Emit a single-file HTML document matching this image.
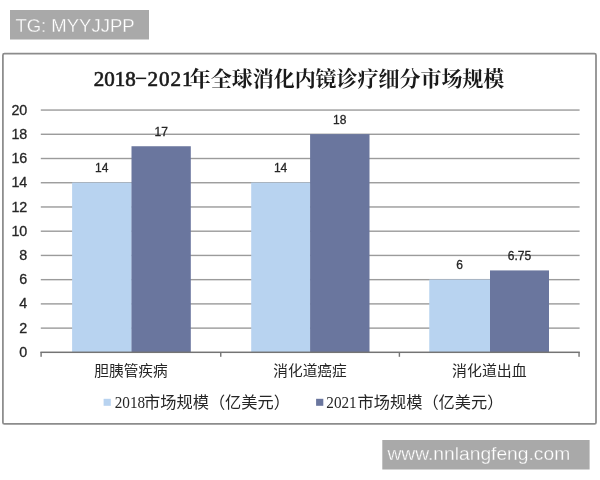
<!DOCTYPE html>
<html><head><meta charset="utf-8"><title>chart</title>
<style>
html,body{margin:0;padding:0;background:#fff;}
body{width:600px;height:480px;overflow:hidden;font-family:"Liberation Sans",sans-serif;}
svg{display:block;will-change:transform;}
text{font-family:"Liberation Sans",sans-serif;fill:#262626;}
.b{stroke:#262626;stroke-width:0.3px;}
.ser{font-family:"Liberation Serif",serif;}
.cjk{font-family:"Liberation Sans","Noto Sans CJK SC",sans-serif;}
.cjkser{font-family:"Liberation Serif","Noto Serif CJK SC",serif;}
</style></head><body>
<svg role="img" aria-label="2018-2021年全球消化内镜诊疗细分市场规模" width="600" height="480" viewBox="0 0 600 480">
<rect x="0" y="0" width="600" height="480" fill="#fff"/>
<rect x="10" y="10" width="139" height="29.5" fill="#a9a9a9"/>
<text x="15.4" y="31.9" font-size="18.3" style="fill:#fff;stroke:#a9a9a9;stroke-width:0.3px" textLength="119.2" lengthAdjust="spacingAndGlyphs">TG: MYYJJPP</text>
<rect x="2.9" y="53.7" width="593.1" height="370.2" rx="1.5" ry="1.5" fill="#fff" stroke="#8c8c8c" stroke-width="1.75"/>
<rect x="40.8" y="327.42" width="538.8" height="1.4" fill="#9b9b9b"/>
<rect x="40.8" y="303.19" width="538.8" height="1.4" fill="#9b9b9b"/>
<rect x="40.8" y="278.96" width="538.8" height="1.4" fill="#9b9b9b"/>
<rect x="40.8" y="254.73" width="538.8" height="1.4" fill="#9b9b9b"/>
<rect x="40.8" y="230.50" width="538.8" height="1.4" fill="#9b9b9b"/>
<rect x="40.8" y="206.27" width="538.8" height="1.4" fill="#9b9b9b"/>
<rect x="40.8" y="182.04" width="538.8" height="1.4" fill="#9b9b9b"/>
<rect x="40.8" y="157.81" width="538.8" height="1.4" fill="#9b9b9b"/>
<rect x="40.8" y="133.58" width="538.8" height="1.4" fill="#9b9b9b"/>
<rect x="40.8" y="109.35" width="538.8" height="1.4" fill="#9b9b9b"/>
<rect x="72.10" y="182.59" width="59.70" height="169.61" fill="#b8d3f0"/>
<rect x="131.50" y="146.24" width="59.30" height="205.96" fill="#6a769e"/>
<text x="101.8" y="172.2" font-size="12" text-anchor="middle" class="b">14</text>
<text x="161.2" y="135.8" font-size="12" text-anchor="middle" class="b">17</text>
<rect x="251.20" y="182.59" width="59.20" height="169.61" fill="#b8d3f0"/>
<rect x="310.10" y="134.13" width="59.40" height="218.07" fill="#6a769e"/>
<text x="280.6" y="172.2" font-size="12" text-anchor="middle" class="b">14</text>
<text x="339.8" y="123.7" font-size="12" text-anchor="middle" class="b">18</text>
<rect x="429.25" y="279.51" width="61.05" height="72.69" fill="#b8d3f0"/>
<rect x="490.00" y="270.42" width="59.00" height="81.78" fill="#6a769e"/>
<text x="459.6" y="269.1" font-size="12" text-anchor="middle" class="b">6</text>
<text x="519.5" y="260.0" font-size="12" text-anchor="middle" class="b">6.75</text>
<rect x="40.40" y="351.55" width="539.40" height="1.5" fill="#747474"/>
<rect x="40.40" y="352.20" width="1.4" height="4.6" fill="#747474"/>
<rect x="220.05" y="352.20" width="1.4" height="4.6" fill="#747474"/>
<rect x="398.70" y="352.20" width="1.4" height="4.6" fill="#747474"/>
<rect x="578.35" y="352.20" width="1.4" height="4.6" fill="#747474"/>
<text x="27.3" y="356.9" font-size="14.3" text-anchor="end" class="b">0</text>
<text x="27.3" y="332.7" font-size="14.3" text-anchor="end" class="b">2</text>
<text x="27.3" y="308.4" font-size="14.3" text-anchor="end" class="b">4</text>
<text x="27.3" y="284.2" font-size="14.3" text-anchor="end" class="b">6</text>
<text x="27.3" y="260.0" font-size="14.3" text-anchor="end" class="b">8</text>
<text x="27.3" y="235.7" font-size="14.3" text-anchor="end" class="b">10</text>
<text x="27.3" y="211.5" font-size="14.3" text-anchor="end" class="b">12</text>
<text x="27.3" y="187.3" font-size="14.3" text-anchor="end" class="b">14</text>
<text x="27.3" y="163.1" font-size="14.3" text-anchor="end" class="b">16</text>
<text x="27.3" y="138.8" font-size="14.3" text-anchor="end" class="b">18</text>
<text x="27.3" y="114.6" font-size="14.3" text-anchor="end" class="b">20</text>
<text class="ser" x="93.8 104.3 114.8 125.3" y="85.6" font-size="21" style="fill:#1a1a1a;stroke:#1a1a1a;stroke-width:0.65px">2018</text>
<rect x="135.9" y="77.6" width="10.3" height="1.5" fill="#1a1a1a"/>
<text class="ser" x="147.5 159 170.5 182" y="85.6" font-size="21" style="fill:#1a1a1a;stroke:#1a1a1a;stroke-width:0.65px">2021</text>
<text class="cjkser" x="189.8" y="85.6" font-size="21" font-weight="bold" style="fill:#1a1a1a" textLength="314.5" lengthAdjust="spacingAndGlyphs">年全球消化内镜诊疗细分市场规模</text>
<text class="cjk" x="94.3" y="375.8" font-size="14.6" textLength="73.4" lengthAdjust="spacingAndGlyphs">胆胰管疾病</text>
<text class="cjk" x="273.3" y="375.8" font-size="14.6" textLength="73.4" lengthAdjust="spacingAndGlyphs">消化道癌症</text>
<text class="cjk" x="452.1" y="375.8" font-size="14.6" textLength="74.6" lengthAdjust="spacingAndGlyphs">消化道出血</text>
<rect x="103.6" y="398.8" width="7.2" height="7" fill="#b8d3f0"/>
<text class="ser" x="114.7" y="407.5" font-size="17" textLength="30.4" lengthAdjust="spacingAndGlyphs">2018</text>
<text class="cjk" x="144" y="408.2" font-size="16.2" textLength="146" lengthAdjust="spacingAndGlyphs">市场规模（亿美元）</text>
<rect x="316.1" y="398.8" width="7.2" height="7" fill="#6a769e"/>
<text class="ser" x="326.3" y="407.5" font-size="17" textLength="30.4" lengthAdjust="spacingAndGlyphs">2021</text>
<text class="cjk" x="357.5" y="408.2" font-size="16.2" textLength="146" lengthAdjust="spacingAndGlyphs">市场规模（亿美元）</text>
<rect x="382.3" y="440" width="207.3" height="29.5" fill="#a9a9a9"/>
<text x="387.4" y="459.9" font-size="18.4" style="fill:#fff;stroke:#a9a9a9;stroke-width:0.3px" textLength="182.8" lengthAdjust="spacingAndGlyphs">www.nnlangfeng.com</text>
</svg>
</body></html>
